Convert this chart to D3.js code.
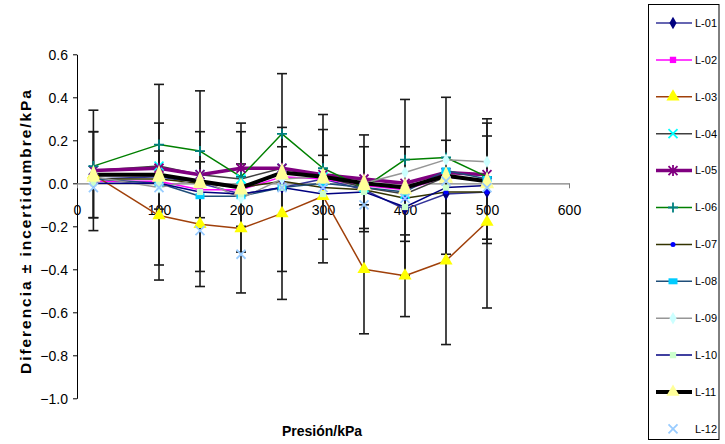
<!DOCTYPE html>
<html>
<head>
<meta charset="utf-8">
<script src="https://cdn.jsdelivr.net/npm/d3@7"></script>
<style>
body { margin: 0; background: #fff; }
svg { display: block; }
text { font-family: "Liberation Sans", Arial, sans-serif; }
</style>
</head>
<body>
<svg id="chart" width="725" height="444"></svg>
<script>
// Pressure points (kPa)
var pressures = [20, 100, 150, 200, 250, 300, 350, 400, 450, 500];

// Differences per lab (kPa)
var L01 = [0.02, 0.03, 0.00, -0.05, -0.02, 0.02, -0.03, -0.12, -0.05, -0.04];
var L02 = [0.01, 0.01, -0.03, -0.03, 0.03, 0.02, -0.01, -0.03, 0.03, 0.01];
var L03 = [0.04, -0.15, -0.19, -0.21, -0.14, -0.06, -0.40, -0.43, -0.36, -0.18];
var L04 = [0.06, 0.08, 0.04, 0.02, 0.07, 0.03, -0.02, -0.05, 0.03, 0.01];
var L05 = [0.06, 0.07, 0.04, 0.07, 0.07, 0.04, 0.02, 0.00, 0.05, 0.04];
var L06 = [0.08, 0.18, 0.15, 0.03, 0.23, 0.07, -0.02, 0.11, 0.12, 0.03];
var L07 = [0.02, 0.02, 0.00, -0.02, 0.01, -0.02, -0.03, -0.07, -0.04, -0.04];
var L08 = [0.02, 0.00, -0.06, -0.06, -0.02, 0.00, -0.02, -0.04, 0.06, 0.02];
var L09 = [0.03, -0.02, 0.02, -0.07, 0.02, 0.03, 0.00, 0.05, 0.11, 0.10];
var L10 = [0.00, 0.00, -0.04, -0.05, -0.02, -0.05, -0.04, -0.11, -0.02, -0.01];
var L11 = [0.04, 0.04, 0.01, -0.02, 0.05, 0.03, 0.00, -0.02, 0.035, 0.01];
var L12 = [-0.02, -0.02, -0.22, -0.33, -0.02, -0.02, -0.10, -0.07, 0.01, -0.02];

// Uncertainties (error bar half-widths)
var err03 = [0.20, 0.30, 0.29, 0.30, 0.40, 0.31, 0.30, 0.19, 0.39, 0.40];
var err04 = [0.28, 0.20, 0.20, 0.22, 0.10, 0.10, 0.19, 0.22, 0.17, 0.27];
var err11 = [0.20, 0.42, 0.42, 0.30, 0.46, 0.29, 0.225, 0.41, 0.365, 0.29];

var xTicks = [0, 100, 200, 300, 400, 500, 600];
var yTicks = [-1.0, -0.8, -0.6, -0.4, -0.2, 0.0, 0.2, 0.4, 0.6];

var series = [
    {name: 'L-01', values: L01, line: '#333399', lw: 1.5, marker: 'diamond', mc: '#000080'},
    {name: 'L-02', values: L02, line: '#ff00ff', lw: 1.5, marker: 'square', mc: '#ff00ff'},
    {name: 'L-03', values: L03, line: '#a0400a', lw: 1.5, marker: 'triangle', mc: '#ffff00', err: err03},
    {name: 'L-04', values: L04, line: '#404040', lw: 1.5, marker: 'x', mc: '#00ffff', err: err04},
    {name: 'L-05', values: L05, line: '#800080', lw: 3.5, marker: 'asterisk', mc: '#800080'},
    {name: 'L-06', values: L06, line: '#008000', lw: 1.5, marker: 'plus', mc: '#008080'},
    {name: 'L-07', values: L07, line: '#333300', lw: 1.5, marker: 'circle', mc: '#0000ff'},
    {name: 'L-08', values: L08, line: '#1f4e79', lw: 1.5, marker: 'rect', mc: '#00ccff'},
    {name: 'L-09', values: L09, line: '#969696', lw: 1.5, marker: 'diamond', mc: '#ccffff'},
    {name: 'L-10', values: L10, line: '#000080', lw: 1.5, marker: 'square', mc: '#ccffcc'},
    {name: 'L-11', values: L11, line: '#000000', lw: 4, marker: 'bigtriangle', mc: '#ffff99', err: err11},
    {name: 'L-12', values: L12, line: null, lw: 0, marker: 'x', mc: '#99ccff'}
];

var svg = d3.select('#chart');

var xScale = d3.scaleLinear().domain([0, 600]).range([77, 569]);
var yScale = d3.scaleLinear().domain([-1, 0.6]).range([398.3, 54.3]);

// y axis
var yAxis = d3.axisLeft(yScale).tickValues(yTicks).tickSize(4).tickSizeOuter(0)
    .tickFormat(d3.format('.1f'));
var yG = svg.append('g').attr('transform', 'translate(' + xScale(0) + ',0)').call(yAxis);
yG.select('.domain').attr('stroke', '#000').attr('stroke-width', 1);
yG.selectAll('.tick line').attr('stroke', '#000');
yG.selectAll('.tick text').attr('x', -9).attr('dy', '0.35em')
    .style('font-size', '14px').attr('fill', '#000');

// x axis, crossing at y = 0
var xAxis = d3.axisBottom(xScale).tickValues(xTicks).tickSize(5).tickSizeOuter(0);
var xG = svg.append('g').attr('transform', 'translate(0,' + yScale(0) + ')').call(xAxis);
xG.select('.domain').attr('stroke', '#808080').attr('stroke-width', 1.2);
xG.selectAll('.tick line').attr('stroke', '#808080');
xG.selectAll('.tick text').attr('y', 27).attr('dy', '0.35em')
    .style('font-size', '14px').attr('fill', '#000');

// axis titles
svg.append('text')
    .attr('x', 322).attr('y', 436)
    .attr('text-anchor', 'middle')
    .style('font-size', '14px').style('font-weight', 'bold')
    .text('Presión/kPa');

svg.append('text')
    .attr('transform', 'translate(31,232) rotate(-90)')
    .attr('text-anchor', 'middle')
    .attr('textLength', 284)
    .attr('lengthAdjust', 'spacing')
    .style('font-size', '15.5px').style('font-weight', 'bold')
    .text('Diferencia ± incertidumbre/kPa');

// marker drawing
function drawMarker(g, type, color) {
    if (type === 'diamond') {
        g.append('path').attr('d', d3.symbol(d3.symbolDiamond, 45)()).attr('fill', color);
    } else if (type === 'square') {
        g.append('path').attr('d', d3.symbol(d3.symbolSquare, 40)()).attr('fill', color);
    } else if (type === 'triangle') {
        g.append('path').attr('d', d3.symbol(d3.symbolTriangle, 75)()).attr('fill', color);
    } else if (type === 'bigtriangle') {
        g.append('path').attr('d', 'M0,-10L7,7L-7,7Z').attr('fill', color);
    } else if (type === 'circle') {
        g.append('circle').attr('r', 2.5).attr('fill', color);
    } else if (type === 'rect') {
        g.append('rect').attr('x', -4.5).attr('y', -3).attr('width', 9).attr('height', 6).attr('fill', color);
    } else if (type === 'x') {
        g.append('path').attr('d', 'M-4.5,-4.5L4.5,4.5M-4.5,4.5L4.5,-4.5')
            .attr('stroke', color).attr('stroke-width', 1.8);
    } else if (type === 'plus') {
        g.append('path').attr('d', 'M-5,0L5,0M0,-5L0,5')
            .attr('stroke', color).attr('stroke-width', 1.8);
    } else if (type === 'asterisk') {
        g.append('path').attr('d', 'M-4.5,-4.5L4.5,4.5M-4.5,4.5L4.5,-4.5M0,-5.5L0,5.5')
            .attr('stroke', color).attr('stroke-width', 1.8);
    }
}

var plotG = svg.append('g');

var line = d3.line()
    .x(function(d, i) { return xScale(pressures[i]); })
    .y(function(d) { return yScale(d); });

// lines
series.forEach(function(s) {
    if (!s.line) return;
    plotG.append('path')
        .datum(s.values)
        .attr('d', line)
        .attr('fill', 'none')
        .attr('stroke', s.line)
        .attr('stroke-width', s.lw)
        .attr('stroke-linejoin', 'round');
});

// error bars
var errG = plotG.append('g');
series.forEach(function(s) {
    if (!s.err) return;
    s.values.forEach(function(v, i) {
        var x = xScale(pressures[i]);
        var y1 = yScale(v + s.err[i]);
        var y2 = yScale(v - s.err[i]);
        errG.append('line').attr('x1', x).attr('x2', x).attr('y1', y1).attr('y2', y2)
            .attr('stroke', '#1a1a1a').attr('stroke-width', 1.6);
        [y1, y2].forEach(function(yy) {
            errG.append('line').attr('x1', x - 5).attr('x2', x + 5).attr('y1', yy).attr('y2', yy)
                .attr('stroke', '#1a1a1a').attr('stroke-width', 1.6);
        });
    });
});

// markers
series.forEach(function(s) {
    s.values.forEach(function(v, i) {
        var g = plotG.append('g')
            .attr('transform', 'translate(' + xScale(pressures[i]) + ',' + yScale(v) + ')');
        drawMarker(g, s.marker, s.mc);
    });
});

// legend
var legend = svg.append('g');
legend.append('rect')
    .attr('x', 648.5).attr('y', 4.5).attr('width', 70.5).attr('height', 435)
    .attr('fill', '#fff').attr('stroke', '#000').attr('stroke-width', 1);

series.forEach(function(s, i) {
    var y = 23 + i * 36.9;
    var item = legend.append('g');
    if (s.line) {
        item.append('line').attr('x1', 656).attr('x2', 692).attr('y1', y).attr('y2', y)
            .attr('stroke', s.line).attr('stroke-width', s.lw);
    }
    var m = item.append('g').attr('transform', 'translate(673,' + y + ')');
    drawMarker(m, s.marker === 'bigtriangle' ? 'triangle' : s.marker, s.mc);
    item.append('text')
        .attr('x', 695).attr('y', y).attr('dy', '0.35em')
        .style('font-size', '11px')
        .text(s.name);
});
</script>
</body>
</html>
